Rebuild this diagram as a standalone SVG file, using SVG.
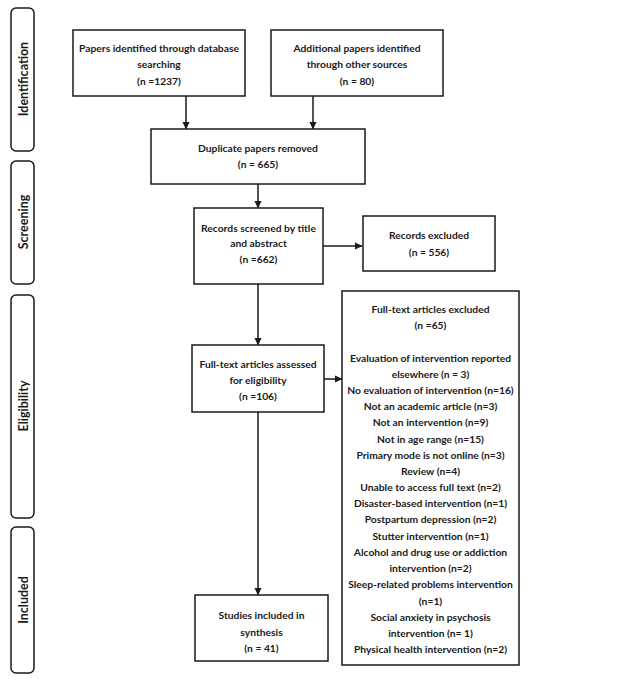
<svg xmlns="http://www.w3.org/2000/svg" width="643" height="679" viewBox="0 0 643 679">
<defs>
<marker id="ah" markerWidth="8" markerHeight="8" refX="7" refY="4" orient="auto" markerUnits="userSpaceOnUse">
<path d="M0,0.5 L7.5,4 L0,7.5 Z" fill="#1a1a1a"/>
</marker>
<style>
.box{fill:#fff;stroke:#1a1a1a;stroke-width:1.5}
.side{fill:#fff;stroke:#1a1a1a;stroke-width:1.5}
.t{font-family:Lato,"Liberation Sans",sans-serif;font-weight:bold;font-size:10.3px;fill:#1a1a1a;text-anchor:middle}
.s{font-family:Lato,"Liberation Sans",sans-serif;font-weight:bold;font-size:12.5px;fill:#1a1a1a;text-anchor:middle}
.c{fill:none;stroke:#1a1a1a;stroke-width:1.5;marker-end:url(#ah)}
</style>
</defs>
<rect width="643" height="679" fill="#fff"/>
<g id="phase-identification">
<rect class="side" x="11" y="8" width="23" height="143" rx="5"/>
<text class="s" transform="translate(27.5,79) rotate(-90)">Identification</text>
</g>
<g id="phase-screening">
<rect class="side" x="11" y="161" width="23" height="123" rx="5"/>
<text class="s" transform="translate(27.5,222) rotate(-90)">Screening</text>
</g>
<g id="phase-eligibility">
<rect class="side" x="11" y="295" width="23" height="223" rx="5"/>
<text class="s" transform="translate(27.5,406) rotate(-90)">Eligibility</text>
</g>
<g id="phase-included">
<rect class="side" x="11" y="527" width="23" height="146" rx="5"/>
<text class="s" transform="translate(27.5,600) rotate(-90)">Included</text>
</g>
<g id="connectors">
<line class="c" x1="186" y1="96" x2="186" y2="129"/>
<line class="c" x1="313" y1="96" x2="313" y2="129"/>
<line class="c" x1="258" y1="184" x2="258" y2="208"/>
<line class="c" x1="323" y1="246" x2="362" y2="246"/>
<line class="c" x1="258" y1="284" x2="258" y2="345"/>
<line class="c" x1="324" y1="379" x2="342" y2="379"/>
<line class="c" x1="258" y1="412" x2="258" y2="595"/>
</g>
<g id="db-search">
<rect class="box" x="73" y="30" width="172" height="66"/>
<text class="t" x="159" y="51.5">Papers identified through database</text>
<text class="t" x="159" y="67.5">searching</text>
<text class="t" x="159" y="84.5">(n =1237)</text>
</g>
<g id="other-sources">
<rect class="box" x="271" y="30" width="172" height="66"/>
<text class="t" x="357" y="51.5">Additional papers identified</text>
<text class="t" x="357" y="67.5">through other sources</text>
<text class="t" x="357" y="84.5">(n = 80)</text>
</g>
<g id="duplicates">
<rect class="box" x="151" y="129" width="214" height="55"/>
<text class="t" x="258" y="151.5">Duplicate papers removed</text>
<text class="t" x="258" y="167.5">(n = 665)</text>
</g>
<g id="screened">
<rect class="box" x="194" y="208" width="129" height="76"/>
<text class="t" x="258.5" y="231.5">Records screened by title</text>
<text class="t" x="258.5" y="246.5">and abstract</text>
<text class="t" x="258.5" y="262.5">(n =662)</text>
</g>
<g id="records-excluded">
<rect class="box" x="363" y="216" width="132" height="55"/>
<text class="t" x="429" y="238.5">Records excluded</text>
<text class="t" x="429" y="255.5">(n = 556)</text>
</g>
<g id="fulltext-assessed">
<rect class="box" x="192" y="345" width="132" height="67"/>
<text class="t" x="258" y="367.5">Full-text articles assessed</text>
<text class="t" x="258" y="383.5">for eligibility</text>
<text class="t" x="258" y="399.5">(n =106)</text>
</g>
<g id="fulltext-excluded">
<rect class="box" x="342" y="291" width="177" height="374"/>
<text class="t" x="430.5" y="312.5">Full-text articles excluded</text>
<text class="t" x="430.5" y="328.5">(n =65)</text>
<text class="t" x="430.5" y="361.5">Evaluation of intervention reported</text>
<text class="t" x="430.5" y="377.5">elsewhere (n = 3)</text>
<text class="t" x="430.5" y="393.5">No evaluation of intervention (n=16)</text>
<text class="t" x="430.5" y="409.5">Not an academic article (n=3)</text>
<text class="t" x="430.5" y="426">Not an intervention (n=9)</text>
<text class="t" x="430.5" y="442.5">Not in age range (n=15)</text>
<text class="t" x="430.5" y="458.5">Primary mode is not online (n=3)</text>
<text class="t" x="430.5" y="475">Review (n=4)</text>
<text class="t" x="430.5" y="491">Unable to access full text (n=2)</text>
<text class="t" x="430.5" y="507">Disaster-based intervention (n=1)</text>
<text class="t" x="430.5" y="523">Postpartum depression (n=2)</text>
<text class="t" x="430.5" y="539.5">Stutter intervention (n=1)</text>
<text class="t" x="430.5" y="555.5">Alcohol and drug use or addiction</text>
<text class="t" x="430.5" y="571.5">intervention (n=2)</text>
<text class="t" x="430.5" y="588">Sleep-related problems intervention</text>
<text class="t" x="430.5" y="604.5">(n=1)</text>
<text class="t" x="430.5" y="620.5">Social anxiety in psychosis</text>
<text class="t" x="430.5" y="636.5">intervention (n= 1)</text>
<text class="t" x="430.5" y="652.5">Physical health intervention (n=2)</text>
</g>
<g id="included">
<rect class="box" x="195" y="595" width="133" height="66"/>
<text class="t" x="261.5" y="618.5">Studies included in</text>
<text class="t" x="261.5" y="635.5">synthesis</text>
<text class="t" x="261.5" y="651.5">(n = 41)</text>
</g>
</svg>
